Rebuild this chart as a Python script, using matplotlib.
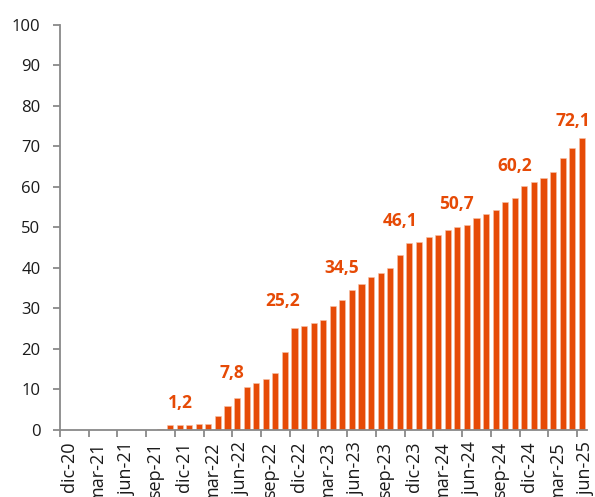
import numpy as np
import matplotlib.pyplot as plt

### DATA: monthly values, dic-20 .. jun-25
values = [0, 0, 0, 0, 0, 0, 0, 0, 0, 0,
          0.2, 1.2, 1.2, 1.2, 1.5, 1.6, 3.4, 6.0, 7.8, 10.7,
          11.7, 12.7, 14.0, 19.3, 25.2, 25.8, 26.4, 27.2, 30.5, 32.0,
          34.5, 36.0, 37.8, 38.7, 40.0, 43.1, 46.1, 46.5, 47.7, 48.2,
          49.4, 50.0, 50.7, 52.4, 53.3, 54.2, 56.4, 57.3, 60.2, 61.2,
          62.2, 63.8, 67.2, 69.6, 72.1]
tick_labels = ['dic-20', 'mar-21', 'jun-21', 'sep-21', 'dic-21', 'mar-22', 'jun-22',
               'sep-22', 'dic-22', 'mar-23', 'jun-23', 'sep-23', 'dic-23', 'mar-24',
               'jun-24', 'sep-24', 'dic-24', 'mar-25', 'jun-25']
labelled = [12, 18, 24, 30, 36, 42, 48, 54]  # bars carrying a value label

### STYLE
orange = '#E64A06'
grey = '#898989'
# per-label offsets (points) as placed in the original
label_dx = [0.7, -3.6, -8.6, -7.2, -6.5, -7.2, -7.2, -6.5]
label_dy = [12.2, 14.4, 15.8, 12.2, 12.2, 11.5, 10.8, 8.6]

plt.rcParams['font.family'] = ['Open Sans', 'DejaVu Sans']

fig = plt.figure(figsize=(5.95, 4.97), dpi=100)
ax = fig.add_axes([0.1008, 0.1348, 0.885, 0.815])

x = np.arange(len(values))
ax.bar(x, values, width=0.64, color=orange, edgecolor='#F7C2A8', linewidth=0.4)

for (i, dx, dy) in zip(labelled, label_dx, label_dy):
    ax.annotate(f'{values[i]:.1f}'.replace('.', ','), (i, values[i]),
                xytext=(dx, dy), textcoords='offset points',
                ha='center', va='baseline', color=orange,
                fontsize=12.5, fontweight='bold')

ax.set_xlim(-0.5, len(values) - 0.5)
ax.set_ylim(0, 100)
ax.set_yticks(np.arange(0, 101, 10))

# tick marks on quarter boundaries, labels sit just right of them
quarters = np.arange(0, len(values), 3)
ax.set_xticks(quarters - 0.5, minor=True)
ax.set_xticks(quarters + 0.45)
ax.set_xticklabels(tick_labels, rotation=90, ha='center', va='top')

for side in ['top', 'right']:
    ax.spines[side].set_visible(False)
for side in ['left', 'bottom']:
    ax.spines[side].set_color(grey)
    ax.spines[side].set_linewidth(1.3)

ax.tick_params(axis='y', length=5, width=1.3, color=grey, pad=9, labelsize=12, labelcolor='#1a1a1a')
ax.tick_params(axis='x', which='major', length=0, pad=8.5, labelsize=13, labelcolor='#1a1a1a')
ax.tick_params(axis='x', which='minor', length=5, width=1.3, color=grey)

fig.savefig('out.png', dpi=100)
